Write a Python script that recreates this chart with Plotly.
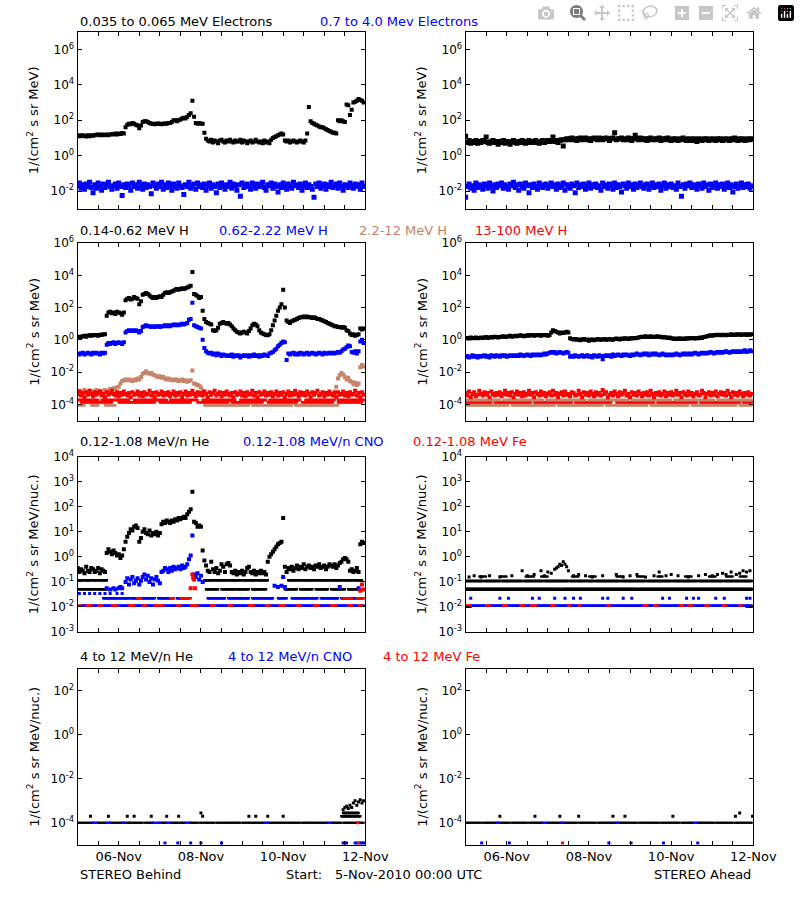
import plotly.graph_objects as go
from datetime import datetime, timedelta

BASE = datetime(2010, 11, 5)
HOURS = list(range(168))

# ---------------- Row 1 : electrons (log10 values, hourly) ----------------
e_lo_behind = [
 1.10,1.15,1.10,1.15,1.12,1.08,1.15,1.10,1.15,1.12,
 1.15,1.18,1.20,1.15,1.20,1.15,1.18,1.20,1.15,1.20,
 1.22,1.20,1.25,1.20,1.25,1.22,1.28,1.25,
 1.60,1.75,1.80,1.78,1.85,1.80,1.75,1.70,1.55,1.70,
 1.90,1.95,1.95,1.90,1.85,1.80,1.80,1.78,1.80,1.82,
 1.80,1.78,1.80,1.82,1.80,1.85,1.85,1.90,2.00,2.00,
 1.95,2.00,2.05,2.10,2.15,2.10,2.20,2.30,2.40,3.10,
 2.20,1.85,1.80,1.85,1.80,1.80,1.30,0.95,0.85,0.80,
 0.90,0.75,0.85,0.80,0.70,0.85,0.90,0.80,0.75,0.85,
 0.80,0.90,0.80,0.75,0.85,0.80,0.80,0.90,0.75,0.85,
 0.80,0.70,0.80,0.85,0.75,0.80,0.90,0.80,0.75,0.80,
 0.70,0.85,0.75,0.80,0.70,0.90,1.00,1.05,1.10,1.15,
 1.20,1.25,1.20,0.85,0.80,0.85,0.75,0.80,0.85,0.80,
 0.75,0.80,0.85,0.80,0.75,0.85,1.25,2.75,1.95,1.85,
 1.80,1.75,1.70,1.65,1.60,1.60,1.55,1.50,1.45,1.40,
 1.35,1.30,1.30,1.25,2.00,1.95,2.00,1.95,1.90,2.90,
 2.85,2.30,2.60,3.00,3.05,3.10,3.20,3.15,3.10,3.00]
e_hi_behind = [
 -1.70,-1.55,-1.85,-1.65,-1.90,-1.60,-1.75,-1.50,-1.80,-2.10,
 -1.65,-1.85,-1.55,-1.70,-1.95,-1.60,-1.80,-1.65,-1.50,-1.75,
 -1.90,-1.70,-1.60,-1.85,-1.55,-1.75,-2.25,-1.65,-1.80,-1.60,
 -1.70,-1.95,-1.55,-1.75,-1.65,-1.85,-1.50,-1.70,-1.90,-1.60,
 -1.80,-1.65,-1.75,-2.15,-1.55,-1.70,-1.85,-1.60,-1.75,-1.50,
 -1.90,-1.65,-1.80,-1.55,-1.70,-1.95,-1.60,-1.75,-1.85,-1.55,
 -1.70,-1.80,-2.20,-1.65,-1.75,-1.50,-1.85,-1.70,-1.60,-1.90,
 -1.55,-1.75,-1.65,-1.80,-1.60,-1.95,-1.70,-1.55,-1.85,-1.65,
 -1.75,-2.10,-1.60,-1.80,-1.55,-1.70,-1.90,-1.65,-1.75,-1.50,
 -1.85,-1.60,-1.70,-1.95,-1.65,-2.30,-1.55,-1.80,-1.70,-1.60,
 -1.75,-1.90,-1.55,-1.70,-1.85,-1.60,-1.75,-1.65,-1.50,-1.80,
 -1.95,-1.65,-1.70,-1.55,-1.85,-1.60,-1.75,-2.05,-1.65,-1.80,
 -1.55,-1.70,-1.90,-1.60,-1.75,-1.85,-1.50,-1.70,-1.65,-1.80,
 -1.60,-1.95,-1.70,-1.55,-1.80,-1.65,-1.75,-1.90,-2.35,-1.60,
 -1.75,-1.55,-1.85,-1.70,-1.60,-1.90,-1.65,-1.75,-1.50,-1.80,
 -1.70,-1.60,-1.85,-1.55,-1.75,-1.95,-1.65,-1.70,-1.80,-1.55,
 -1.70,-1.85,-1.60,-1.75,-1.65,-1.90,-1.55,-1.75]
e_lo_ahead = [
 1.10,0.75,0.85,0.70,0.80,0.75,0.85,0.70,0.80,0.75,
 0.85,0.80,1.05,0.75,0.70,0.80,0.85,0.75,0.80,0.65,
 0.80,0.75,0.85,0.70,0.80,0.75,0.65,0.80,0.85,0.75,
 0.70,0.80,0.75,0.85,0.80,0.70,0.75,0.85,0.80,0.75,
 0.80,0.85,0.75,0.70,0.80,0.85,0.75,0.80,0.85,0.80,
 0.85,1.05,0.80,0.85,0.75,0.85,0.90,0.55,0.90,0.95,
 0.90,0.95,1.00,0.90,0.95,0.85,0.95,1.00,0.90,0.95,
 1.00,0.90,0.95,0.85,0.95,1.00,0.95,0.90,1.00,0.95,
 0.90,0.95,1.00,0.95,0.85,0.95,1.00,1.30,0.90,0.95,
 0.95,1.00,0.90,0.95,0.90,1.00,0.95,0.85,0.95,1.15,
 0.95,0.90,1.00,0.95,0.90,0.95,0.85,0.95,1.00,0.90,
 0.95,0.90,0.95,1.00,0.85,0.95,0.90,0.95,1.00,0.90,
 0.85,0.95,0.90,0.95,0.85,0.90,0.95,1.00,0.90,0.85,
 0.95,0.90,0.85,0.95,0.90,0.80,0.95,0.90,0.85,0.95,
 0.90,0.95,0.85,0.90,0.95,0.90,0.85,0.95,0.90,0.95,
 0.85,0.90,0.95,0.90,0.85,0.95,0.90,1.00,0.90,0.85,
 0.95,0.90,0.95,0.85,0.90,0.95,0.90,0.95]
e_hi_ahead = [
 -2.35,-1.75,-1.60,-1.85,-1.70,-1.95,-1.55,-1.80,-1.65,-1.75,
 -1.90,-1.60,-1.70,-1.85,-1.55,-1.75,-2.00,-1.65,-1.80,-1.60,
 -1.70,-1.55,-1.85,-1.65,-1.75,-1.90,-1.60,-1.70,-1.50,-1.80,
 -1.65,-1.95,-1.60,-1.75,-1.85,-1.55,-1.70,-2.10,-1.65,-1.80,
 -1.60,-1.75,-1.90,-1.55,-1.70,-1.80,-1.65,-1.60,-1.85,-1.70,
 -1.55,-1.75,-1.65,-1.90,-1.60,-1.80,-1.70,-1.55,-1.95,-1.65,
 -1.75,-1.85,-1.60,-1.70,-2.10,-1.55,-1.80,-1.65,-1.75,-1.60,
 -1.90,-1.70,-1.55,-1.85,-1.65,-1.75,-1.60,-1.80,-1.70,-1.95,
 -1.55,-1.75,-1.65,-1.85,-1.60,-1.70,-1.90,-1.55,-1.80,-1.65,
 -1.75,-2.05,-1.60,-1.70,-1.85,-1.55,-1.75,-1.65,-1.90,-1.60,
 -1.80,-1.70,-1.55,-1.75,-1.85,-1.65,-1.60,-1.90,-1.70,-1.55,
 -1.80,-1.65,-1.75,-1.60,-1.95,-1.70,-1.55,-1.85,-1.65,-1.75,
 -1.60,-1.80,-1.70,-1.90,-1.55,-1.75,-2.30,-1.65,-1.85,-1.60,
 -1.70,-1.55,-1.80,-1.65,-1.75,-1.90,-1.60,-1.70,-1.85,-1.55,
 -1.75,-1.65,-1.95,-1.60,-1.80,-1.70,-1.55,-1.85,-1.65,-1.75,
 -1.60,-1.90,-1.70,-1.55,-1.80,-1.65,-2.05,-1.75,-1.60,-1.85,
 -1.70,-1.55,-1.80,-1.65,-1.75,-1.60,-1.85,-1.70]

# ---------------- Row 2 : protons ----------------
h1_behind = [
 0.15,0.20,0.18,0.22,0.25,0.20,0.25,0.28,0.25,0.30,
 0.28,0.30,0.25,0.32,0.30,0.35,0.35,
 1.50,1.70,1.75,1.65,1.70,1.60,1.75,1.70,1.65,1.55,1.70,
 2.45,2.55,2.60,2.50,2.55,2.65,2.60,2.55,2.20,2.40,
 2.80,2.85,2.90,2.85,2.75,2.65,2.60,2.65,2.60,2.65,
 2.70,2.65,2.80,2.90,2.95,2.90,2.95,3.00,3.05,3.10,
 3.15,3.10,3.15,3.20,3.15,3.20,3.25,3.30,3.35,4.20,
 2.85,2.80,2.70,2.60,2.65,1.80,1.30,1.10,1.05,1.00,
 0.95,0.60,0.55,0.60,0.75,1.00,1.05,1.10,1.05,1.00,
 1.05,0.95,0.85,0.70,0.60,0.50,0.45,0.40,0.45,0.50,
 0.45,0.40,0.55,0.70,0.90,1.00,0.95,0.85,0.60,0.45,
 0.40,0.35,0.30,0.28,0.35,0.60,0.90,1.20,1.50,1.80,
 2.00,2.20,3.10,2.00,1.20,1.10,1.05,1.15,1.20,1.25,
 1.30,1.35,1.40,1.40,1.45,1.40,1.45,1.40,1.40,1.35,
 1.40,1.35,1.30,1.30,1.25,1.20,1.15,1.10,1.05,1.00,
 0.95,0.90,0.85,0.85,0.80,0.80,0.75,0.80,0.75,0.60,
 0.55,0.40,0.30,0.35,0.25,0.30,0.35,0.70,0.65,0.70]
h2_behind = [
 -0.85,-0.90,-0.85,-0.80,-0.90,-0.85,-0.80,-0.85,-0.90,-0.80,
 -0.85,-0.80,-0.85,-0.90,-0.80,-0.85,-0.80,
 -0.30,-0.20,-0.25,-0.20,-0.15,-0.25,-0.20,-0.15,-0.20,-0.25,-0.15,
 0.45,0.55,0.60,0.55,0.60,0.55,0.60,0.55,0.45,0.55,
 0.80,0.85,0.90,0.85,0.85,0.80,0.85,0.80,0.85,0.85,
 0.80,0.85,0.85,0.90,0.85,0.90,0.85,0.90,0.95,0.90,
 0.95,0.90,0.95,1.00,0.95,1.00,1.05,1.25,1.30,2.30,
 0.90,0.85,0.80,0.75,0.70,0.00,-0.50,-0.70,-0.80,-0.85,
 -0.80,-0.90,-0.85,-0.95,-0.85,-0.90,-1.00,-0.90,-0.95,-1.00,
 -0.95,-1.00,-0.90,-1.05,-0.95,-1.00,-0.95,-1.10,-1.00,-0.95,
 -1.00,-0.95,-1.05,-0.95,-1.00,-0.90,-1.00,-0.95,-1.05,-0.95,
 -1.00,-0.90,-0.95,-1.00,-0.85,-0.80,-0.75,-0.65,-0.55,-0.40,
 -0.30,-0.20,-0.10,-0.15,-1.25,-0.85,-0.90,-0.85,-0.80,-0.90,
 -0.85,-0.90,-0.80,-0.85,-0.90,-0.85,-0.80,-0.90,-0.85,-0.80,
 -0.85,-0.90,-0.85,-0.80,-0.85,-0.90,-0.80,-0.85,-0.85,-0.80,
 -0.85,-0.80,-0.85,-0.80,-0.75,-0.80,-0.70,-0.60,-0.55,-0.45,
 -0.35,-0.40,-0.75,-0.80,-0.70,-0.85,-0.70,-0.10,0.00,-0.20]
h3_behind_early = [  # hours 0..73
 -3.25,-3.15,-3.30,-3.20,-3.10,-3.25,-3.35,-3.15,-3.20,-3.30,
 -3.20,-3.10,-3.25,-3.15,-3.30,-3.20,-3.10,-3.25,-3.15,-3.05,
 -3.10,-3.00,-3.05,-2.95,-2.90,-2.70,-2.55,-2.50,-2.45,-2.50,
 -2.45,-2.50,-2.55,-2.45,-2.50,-2.40,-2.45,-2.30,-2.10,-2.05,
 -1.95,-2.05,-2.10,-2.05,-2.15,-2.20,-2.25,-2.30,-2.25,-2.35,
 -2.30,-2.40,-2.45,-2.40,-2.45,-2.50,-2.45,-2.50,-2.45,-2.55,
 -2.50,-2.45,-2.55,-2.50,-2.60,-2.55,-2.50,-1.90,-2.70,-2.75,
 -2.80,-2.85,-2.95,-3.15]
h3_behind_late = [  # hours 150..167
 -3.20,-2.90,-2.40,-2.20,-2.05,-2.15,-2.30,-2.45,-2.35,-2.55,
 -2.60,-2.75,-2.65,-2.80,-2.70,-1.70,-1.55,-1.65]
h4_behind = [
 -3.35,-3.20,-3.45,-3.30,-3.55,-3.25,-3.40,-3.15,-3.35,-3.50,
 -3.25,-3.40,-3.30,-3.20,-3.45,-3.35,-3.55,-3.25,-3.40,-3.30,
 -3.15,-3.35,-3.45,-3.25,-3.50,-3.30,-3.40,-3.20,-3.35,-3.45,
 -3.30,-3.55,-3.25,-3.40,-3.35,-3.20,-3.45,-3.30,-3.50,-3.25,
 -3.40,-3.35,-3.15,-3.45,-3.30,-3.55,-3.25,-3.40,-3.35,-3.20,
 -3.45,-3.30,-3.40,-3.25,-3.50,-3.35,-3.20,-3.45,-3.30,-3.40,
 -3.25,-3.55,-3.35,-3.20,-3.45,-3.30,-3.40,-3.15,-3.35,-3.50,
 -3.25,-3.40,-3.30,-3.45,-3.20,-3.35,-3.55,-3.25,-3.40,-3.30,
 -3.15,-3.45,-3.35,-3.25,-3.50,-3.30,-3.40,-3.20,-3.35,-3.45,
 -3.30,-3.55,-3.25,-3.40,-3.35,-3.20,-3.45,-3.30,-3.50,-3.25,
 -3.40,-3.35,-3.15,-3.45,-3.30,-3.55,-3.25,-3.40,-3.35,-3.20,
 -3.45,-3.30,-3.40,-3.25,-3.50,-3.35,-3.20,-3.45,-3.30,-3.40,
 -3.25,-3.55,-3.35,-3.20,-3.45,-3.30,-3.40,-3.15,-3.35,-3.50,
 -3.25,-3.40,-3.30,-3.45,-3.20,-3.35,-3.55,-3.25,-3.40,-3.30,
 -3.15,-3.45,-3.35,-3.25,-3.50,-3.30,-3.40,-3.20,-3.35,-3.45,
 -3.30,-3.55,-3.25,-3.40,-3.35,-3.20,-3.45,-3.30,-3.50,-3.25,
 -3.40,-3.35,-3.15,-3.45,-3.30,-3.55,-3.25,-3.40]
h1_ahead = [
 0.10,0.12,0.08,0.15,0.10,0.12,0.15,0.10,0.12,0.15,
 0.12,0.15,0.18,0.12,0.15,0.18,0.15,0.20,0.18,0.15,
 0.18,0.20,0.22,0.18,0.20,0.22,0.25,0.20,0.22,0.25,
 0.22,0.25,0.28,0.25,0.22,0.25,0.28,0.25,0.30,0.28,
 0.25,0.28,0.30,0.28,0.25,0.30,0.28,0.30,0.25,0.30,
 0.45,0.60,0.55,0.50,0.45,0.40,0.45,0.42,0.45,0.50,
 0.45,0.10,0.05,0.02,0.05,0.00,0.03,-0.02,0.02,0.05,
 0.00,0.03,-0.05,0.00,0.02,-0.03,0.00,0.05,0.02,0.00,
 0.03,0.05,0.00,0.02,0.05,0.03,0.00,0.05,0.08,0.05,
 0.03,0.08,0.05,0.10,0.08,0.05,0.10,0.08,0.12,0.10,
 0.12,0.15,0.18,0.20,0.18,0.22,0.20,0.18,0.22,0.20,
 0.18,0.20,0.22,0.18,0.20,0.15,0.18,0.15,0.12,0.15,
 0.10,0.08,0.05,0.08,0.05,0.10,0.05,0.08,0.05,0.10,
 0.08,0.10,0.12,0.10,0.08,0.12,0.10,0.15,0.12,0.18,
 0.20,0.22,0.25,0.28,0.25,0.30,0.28,0.32,0.30,0.28,
 0.32,0.30,0.28,0.32,0.30,0.35,0.32,0.30,0.35,0.32,
 0.35,0.30,0.33,0.35,0.30,0.35,0.32,0.35]
h2_ahead = [
 -1.05,-1.00,-1.10,-1.05,-0.95,-1.05,-1.00,-1.10,-1.00,-1.05,
 -1.00,-0.95,-1.05,-1.00,-1.10,-0.95,-1.00,-1.05,-0.95,-1.00,
 -1.05,-0.95,-1.00,-0.95,-1.05,-1.00,-0.95,-1.00,-0.95,-1.00,
 -0.95,-1.00,-0.90,-0.95,-1.00,-0.95,-0.90,-0.95,-1.00,-0.90,
 -0.95,-0.90,-0.95,-0.90,-0.95,-0.90,-0.85,-0.90,-0.85,-0.80,
 -0.75,-0.80,-0.75,-0.85,-0.80,-0.75,-0.80,-0.85,-0.80,-0.75,
 -0.80,-1.05,-1.00,-1.05,-0.95,-1.00,-1.05,-1.00,-0.95,-1.05,
 -1.00,-0.95,-1.05,-1.00,-1.10,-0.95,-1.00,-1.05,-0.95,-1.00,
 -1.20,-1.00,-0.95,-1.00,-0.95,-1.05,-0.90,-1.00,-0.95,-0.90,
 -0.95,-1.00,-0.90,-0.95,-0.90,-0.95,-1.00,-0.90,-0.95,-0.90,
 -0.85,-0.90,-0.95,-0.90,-0.85,-0.90,-0.85,-0.95,-0.90,-0.85,
 -0.90,-0.85,-0.90,-0.95,-0.90,-0.85,-0.90,-0.95,-0.90,-0.95,
 -0.90,-0.95,-0.90,-0.85,-0.90,-0.95,-0.90,-0.85,-0.90,-0.85,
 -0.90,-0.85,-0.90,-0.85,-0.80,-0.85,-0.90,-0.85,-0.80,-0.85,
 -0.80,-0.85,-0.80,-0.75,-0.80,-0.85,-0.80,-0.75,-0.80,-0.75,
 -0.80,-0.75,-0.70,-0.75,-0.80,-0.75,-0.70,-0.75,-0.70,-0.75,
 -0.70,-0.75,-0.70,-0.65,-0.75,-0.70,-0.65,-0.70]
h4_ahead = [
 -3.30,-3.45,-3.20,-3.55,-3.35,-3.25,-3.50,-3.40,-3.15,-3.35,
 -3.45,-3.25,-3.40,-3.30,-3.55,-3.20,-3.35,-3.45,-3.30,-3.40,
 -3.25,-3.50,-3.35,-3.15,-3.40,-3.30,-3.45,-3.25,-3.55,-3.35,
 -3.20,-3.40,-3.30,-3.50,-3.25,-3.45,-3.35,-3.15,-3.40,-3.30,
 -3.55,-3.25,-3.35,-3.45,-3.20,-3.40,-3.30,-3.50,-3.35,-3.25,
 -3.45,-3.15,-3.40,-3.30,-3.55,-3.35,-3.25,-3.45,-3.20,-3.40,
 -3.35,-3.50,-3.25,-3.30,-3.45,-3.40,-3.15,-3.35,-3.55,-3.25,
 -3.40,-3.30,-3.45,-3.20,-3.35,-3.50,-3.25,-3.40,-3.30,-3.45,
 -3.10,-3.35,-3.25,-3.55,-3.40,-3.30,-3.45,-3.20,-3.35,-3.50,
 -3.25,-3.40,-3.30,-3.15,-3.45,-3.35,-3.55,-3.25,-3.40,-3.30,
 -3.45,-3.20,-3.35,-3.50,-3.30,-3.40,-3.25,-3.45,-3.15,-3.35,
 -3.55,-3.30,-3.40,-3.25,-3.45,-3.35,-3.20,-3.50,-3.30,-3.40,
 -3.25,-3.45,-3.35,-3.15,-3.40,-3.30,-3.55,-3.25,-3.35,-3.45,
 -3.20,-3.40,-3.30,-3.50,-3.35,-3.25,-3.45,-3.40,-3.15,-3.30,
 -3.55,-3.35,-3.25,-3.45,-3.30,-3.40,-3.20,-3.50,-3.35,-3.25,
 -3.40,-3.30,-3.45,-3.15,-3.35,-3.55,-3.25,-3.40,-3.30,-3.45,
 -3.20,-3.35,-3.50,-3.30,-3.40,-3.25,-3.45,-3.35]
# background (count-floor) levels: (log10 level, [start_hour, end_hour] segments)
h4_behind_lvl1 = (-3.72, [[0,12],[14,30],[33,52],[54,70],[73,92],[95,110],[112,130],[133,150],[152,167]])
h4_behind_lvl2 = (-3.87, [[2,20],[24,45],[48,66],[70,88],[90,108],[111,128],[131,149],[152,166]])
h3_behind_floor = (-4.05, [[0,4],[8,12],[16,22],[74,100],[102,125],[127,152]])
h3_ahead_lvl1 = (-3.72, [[0,20],[22,45],[47,70],[72,95],[97,120],[122,145],[147,167]])
h4_ahead_lvl2 = (-3.87, [[0,15],[17,38],[40,62],[64,85],[88,110],[112,135],[137,160],[162,167]])
h3_ahead_floor = (-4.05, [[0,25],[27,52],[54,80],[82,106],[108,130],[132,158],[160,167]])

# ---------------- Row 3 : 0.12-1.08 MeV/n heavy ions ----------------
he_behind = [
 -0.45,-0.60,-0.50,-0.55,-0.65,-0.40,-0.55,-0.60,-0.45,-0.50,
 -0.60,-0.55,-0.45,-0.65,-0.50,-0.55,-0.60,
 0.15,0.30,0.20,0.10,0.25,0.15,0.05,0.10,-0.05,0.05,0.30,
 0.60,0.80,0.95,1.10,1.05,1.20,1.25,1.15,0.60,0.75,
 1.00,1.10,0.95,0.90,1.05,0.85,0.95,0.90,1.00,0.85,
 0.95,1.30,1.40,1.35,1.45,1.40,1.35,1.45,1.40,1.50,
 1.45,1.55,1.50,1.55,1.60,1.55,1.70,1.80,1.90,2.60,
 1.40,1.35,1.20,1.25,1.20,0.25,-0.15,-0.35,-0.55,-0.60,
 -0.20,-0.50,-0.60,-0.45,-0.65,-0.55,-0.30,-0.40,-0.60,-0.30,
 -0.25,-0.35,-0.60,-0.65,-0.55,-0.70,-0.60,-0.65,-0.55,-0.70,
 -0.60,-0.45,-0.40,-0.60,-0.65,-0.55,-0.70,-0.60,-0.65,-0.55,
 -0.65,-0.60,-0.70,-0.20,0.00,0.10,0.20,0.30,0.40,0.50,
 0.55,0.60,1.55,-0.40,-0.60,-0.45,-0.50,-0.40,-0.55,-0.45,
 -0.35,-0.50,-0.40,-0.45,-0.30,-0.50,-0.40,-0.35,-0.45,-0.40,
 -0.50,-0.35,-0.40,-0.30,-0.45,-0.40,-0.35,-0.50,-0.40,-0.30,
 -0.35,-0.40,-0.30,-0.45,-0.35,-0.25,-0.20,-0.10,-0.05,-0.10,
 -0.20,-0.55,-0.50,-0.60,-0.55,-0.45,-0.60,0.50,0.60,0.55]
he_behind_lvl1 = (-0.93, [[0,3],[4,8],[9,12],[13,17],[74,80],[81,88],[89,96],[97,104],[105,111],
                          [123,130],[131,138],[139,146],[147,154],[155,160],[161,166]])
he_behind_lvl2 = (-1.29, [[0,4],[5,10],[11,17],[75,82],[84,92],[93,100],[102,110],[121,128],
                          [130,137],[139,146],[148,156],[158,165]])
cno_behind_hours = list(range(17, 78))
cno_behind = [
 -1.25,None,-1.30,None,-1.25,-1.30,None,-1.25,-1.20,-1.25,None,
 -1.00,-0.85,-1.10,-0.90,-0.80,-1.05,-0.95,-0.85,-1.10,-0.95,
 -0.80,-0.70,-0.90,-0.75,-1.00,-0.85,-1.10,-0.90,-0.80,-0.95,
 -1.05,-0.60,-0.55,-0.45,-0.50,-0.60,-0.45,-0.55,-0.40,-0.50,
 -0.45,-0.40,-0.50,-0.35,-0.45,-0.40,-0.30,-0.10,0.05,0.85,
 -0.70,-0.80,-0.65,-0.90,-0.75,-1.00,None,None,None,None]
cno_behind_late_hours = [115, 117, 119, 120, 121, 153, 164]
cno_behind_late = [-1.15, -1.20, -1.15, -0.80, -1.20, -1.20, -1.25]
cno_behind_dots_hours = [1, 4, 7, 10, 13, 16, 19, 23, 26]
cno_behind_dots = [-1.46, -1.46, -1.46, -1.46, -1.46, -1.46, -1.46, -1.46, -1.46]
cno_behind_lvl1 = (-1.65, [[15,30],[31,45],[47,56],[58,64],[76,86],[88,100],[102,114],[117,122],
                           [125,140],[142,152],[154,166]])
fe_behind_lvl1 = (-1.65, [[35,37],[54,56],[60,66],[155,160],[163,167]])
fe_behind_lvl0 = (-1.95, [[0,2],[5,8],[12,14],[20,23],[30,33],[38,40],[45,50],[58,60],[66,70],
                          [78,80],[88,90],[100,103],[110,112],[118,121],[128,130],[138,141],
                          [148,151],[158,160],[164,166]])
cno_behind_lvl0 = (-1.95, [[2,5],[8,12],[14,20],[23,30],[33,38],[40,45],[50,58],[60,66],[70,78],
                           [80,88],[90,100],[103,110],[112,118],[121,128],[130,138],[141,148],
                           [151,158],[160,164],[166,167]])
fe_behind_hours = [66, 67, 67.5, 68, 68.5, 165, 166, 167]
fe_behind = [-1.25, -0.70, -0.85, -0.90, -1.25, -1.35, -1.10, -1.30]

he_ahead_hours = [2,5,9,14,20,27,33,36,40,44,46,48,50,52,53,54,55,56,57,58,
                  59,60,63,66,70,74,80,88,92,96,100,105,110,113,117,120,124,130,136,140,
                  144,147,150,152,155,158,160,162,164,166]
he_ahead = [-0.80,-0.75,-0.80,-0.75,-0.80,-0.75,-0.55,-0.75,-0.70,-0.55,
            -0.75,-0.60,-0.65,-0.50,-0.45,-0.40,-0.30,-0.35,-0.20,-0.30,
            -0.40,-0.55,-0.75,-0.70,-0.75,-0.80,-0.75,-0.70,-0.80,-0.75,
            -0.70,-0.80,-0.75,-0.60,-0.75,-0.70,-0.75,-0.80,-0.75,-0.70,
            -0.75,-0.70,-0.65,-0.70,-0.60,-0.70,-0.65,-0.55,-0.60,-0.55]
he_ahead_lvl3 = (-0.78, [[8,12],[20,24],[35,40],[44,48],[62,66],[72,76],[88,92],[100,104],
                         [112,115],[128,132],[142,146],[152,156],[160,164]])
he_ahead_lvl1 = (-0.96, [[0,10],[11,20],[21,33],[34,45],[46,60],[61,75],[76,90],[91,105],
                         [106,120],[121,135],[136,150],[151,167]])
he_ahead_lvl2 = (-1.29, [[0,55],[56,100],[101,167]])
he_ahead_lvl0 = (-1.98, [[0,3],[164,167]])
cno_ahead_dots_hours = [3,20,25,39,43,52,58,63,67,80,83,92,97,115,119,129,133,136,146,151,164,166]
cno_ahead_dots = [-1.65,-1.65,-1.65,-1.65,-1.65,-1.65,-1.65,-1.65,-1.65,-1.65,-1.65,
                  -1.65,-1.65,-1.65,-1.65,-1.65,-1.65,-1.65,-1.65,-1.65,-1.65,-1.65]
cno_ahead_lvl0 = (-1.95, [[3,12],[14,22],[24,32],[34,38],[41,50],[52,60],[61,66],[67,83],[84,104],
                          [106,110],[112,125],[127,130],[132,140],[142,150],[152,160],[161,167]])
fe_ahead_lvl0 = (-1.95, [[0,3],[12,14],[22,24],[32,34],[38,41],[50,52],[60,61],[66,67],[83,84],
                         [104,106],[110,112],[125,127],[130,132],[140,142],[150,152],[160,161]])

# ---------------- Row 4 : 4-12 MeV/n heavy ions ----------------
he4_behind_hours = [7.5,18,29,33,43,52,59,72,73,100,104,111,120,
                    155,156,157,158,159,160,161,162,163,164,165,166,167]
he4_behind = [-3.70,-3.70,-3.70,-3.70,-3.70,-3.70,-3.70,-3.55,-3.70,-3.70,-3.70,-3.70,-3.70,
              -3.40,-3.30,-3.25,-3.35,-3.20,-3.30,-3.10,-3.00,-3.20,-3.05,-2.95,-3.10,-3.00]
he4_behind_lvl0 = (-4.0, [[0,9],[11,17],[19,26],[27,38],[39,44],[48,52],[54,63],[65,70],[71,80],
                          [81,95],[96,109],[111,130],[131,146],[148,154],[155,167]])
he4_behind_lvl1 = (-3.55, [[155,164]])
he4_behind_lvl2 = (-3.70, [[154,165]])
cno4_behind_lvl0 = (-4.0, [[9,11],[17,19],[26,27],[44,48],[52,54],[63,65],[109,111],[146,148]])
cno4_behind_hours = [51,58.5,66,72,84,155,156,157,162,163,165,166,167]
cno4_behind = [-4.92,-4.92,-4.92,-4.92,-4.92,-4.92,-4.92,-4.92,-4.92,-4.92,-4.92,-4.92,-4.92]
fe4_behind_hours = [163.5, 164]
fe4_behind = [-4.0, -4.92]

he4_ahead_hours = [20,40.5,55,66,86,93,121,157.5,160,167.5]
he4_ahead = [-3.70,-3.70,-3.70,-3.70,-3.70,-3.70,-3.70,-3.70,-3.55,-3.70]
he4_ahead_lvl0 = (-4.0, [[0,9],[10,18],[19,26],[27,36],[37,45],[47,56],[57,65],[66,76],[77,88],
                         [89,100],[101,113],[114,125],[126,133],[135,145],[146,156],[157,167]])
cno4_ahead_lvl0 = (-4.0, [[18,19],[45,47],[56,57],[88,89],[133,135]])
cno4_ahead_hours = [9.4,25.5,83.6,96.6,115.5,135.5]
cno4_ahead = [-4.92,-4.92,-4.92,-4.92,-4.92,-4.92]
fe4_ahead_hours = [56.6]
fe4_ahead = [-4.92]

# tick labels
X_TICK_HOURS = [24, 72, 120, 168]
X_TICK_TEXT = ["06-Nov", "08-Nov", "10-Nov", "12-Nov"]
Y_TICK_EXP = [[-2, 0, 2, 4, 6], [-4, -2, 0, 2, 4, 6], [-3, -2, -1, 0, 1, 2, 3, 4], [-4, -2, 0, 2]]
Y_RANGES = [(-3, 7), (-5, 6), (-3, 4), (-5, 3)]

# ---------------- figure ----------------
BLACK, BLUE, RED, TAN = "#000000", "#0000ff", "#ff0000", "#c8846a"
FONT = "DejaVu Sans"
W, H = 800, 900
COL_PX = [(80, 376.7), (480, 776.7)]
ROW_PX = [(23.3, 203.3), (238.3, 419.0), (455.7, 634.3), (671.7, 851.0)]
MAIN, BAND, FLOOR = 4, 5, 2.5

fig = go.Figure()


def axn(p):
    return ("x" if p == 0 else f"x{p+1}"), ("y" if p == 0 else f"y{p+1}")


def dt(h):
    return BASE + timedelta(hours=h)


def pts(p, hours, logs, color, size=MAIN):
    xs, ys = [], []
    for h, v in zip(hours, logs):
        if v is None:
            continue
        xs.append(dt(h))
        ys.append(10 ** v)
    xa, ya = axn(p)
    fig.add_trace(go.Scatter(x=xs, y=ys, mode="markers", xaxis=xa, yaxis=ya,
                             marker=dict(symbol="square", size=size, color=color, line=dict(width=0)),
                             showlegend=False, hoverinfo="skip"))


def floor(p, spec, color, size=FLOOR):
    level, segs = spec
    hs = []
    for a, b in segs:
        h = a
        while h <= b:
            hs.append(h)
            h += 0.5
    pts(p, hs, [level] * len(hs), color, size)


# panel 0/1: electrons
pts(0, HOURS, e_lo_behind, BLACK)
pts(0, HOURS, e_hi_behind, BLUE, BAND)
pts(1, HOURS, e_lo_ahead, BLACK, BAND)
pts(1, HOURS, e_hi_ahead, BLUE, BAND)
# panel 2/3: protons
floor(2, h3_behind_floor, TAN)
floor(2, h4_behind_lvl2, RED)
floor(2, h4_behind_lvl1, RED)
pts(2, HOURS, h1_behind, BLACK)
pts(2, HOURS, h2_behind, BLUE)
pts(2, list(range(0, 74)), h3_behind_early, TAN)
pts(2, list(range(150, 168)), h3_behind_late, TAN)
pts(2, HOURS, h4_behind, RED)
floor(3, h3_ahead_floor, TAN)
floor(3, h4_ahead_lvl2, RED)
floor(3, h3_ahead_lvl1, TAN)
pts(3, HOURS, h1_ahead, BLACK)
pts(3, HOURS, h2_ahead, BLUE)
pts(3, HOURS, h4_ahead, RED)
# panel 4/5: low-energy ions
floor(4, he_behind_lvl1, BLACK)
floor(4, he_behind_lvl2, BLACK)
pts(4, HOURS, he_behind, BLACK)
floor(4, cno_behind_lvl1, BLUE)
floor(4, cno_behind_lvl0, BLUE)
pts(4, cno_behind_dots_hours, cno_behind_dots, BLUE, 3)
pts(4, cno_behind_hours, cno_behind, BLUE)
pts(4, cno_behind_late_hours, cno_behind_late, BLUE)
floor(4, fe_behind_lvl1, RED)
floor(4, fe_behind_lvl0, RED)
pts(4, fe_behind_hours, fe_behind, RED)
floor(5, he_ahead_lvl0, BLACK)
floor(5, he_ahead_lvl1, BLACK)
floor(5, he_ahead_lvl2, BLACK, 3)
floor(5, he_ahead_lvl3, BLACK, 2)
pts(5, he_ahead_hours, he_ahead, BLACK, 3)
pts(5, cno_ahead_dots_hours, cno_ahead_dots, BLUE, 3)
floor(5, cno_ahead_lvl0, BLUE)
floor(5, fe_ahead_lvl0, RED)
# panel 6/7: high-energy ions
floor(6, he4_behind_lvl0, BLACK, 2)
floor(6, he4_behind_lvl1, BLACK)
floor(6, he4_behind_lvl2, BLACK)
pts(6, he4_behind_hours, he4_behind, BLACK, 3)
floor(6, cno4_behind_lvl0, BLUE, 2)
pts(6, cno4_behind_hours, cno4_behind, BLUE, 3)
pts(6, fe4_behind_hours, fe4_behind, RED, 3)
floor(7, he4_ahead_lvl0, BLACK, 2)
pts(7, he4_ahead_hours, he4_ahead, BLACK, 3)
floor(7, cno4_ahead_lvl0, BLUE, 2)
pts(7, cno4_ahead_hours, cno4_ahead, BLUE, 3)
pts(7, fe4_ahead_hours, fe4_ahead, RED, 3)

# axes
layout = {}
for p in range(8):
    r, c = divmod(p, 2)
    x0, x1 = COL_PX[c]
    y0, y1 = ROW_PX[r]
    xk = "xaxis" if p == 0 else f"xaxis{p+1}"
    yk = "yaxis" if p == 0 else f"yaxis{p+1}"
    xa, ya = axn(p)
    layout[xk] = dict(
        domain=[x0 / W, x1 / W], anchor=ya, type="date",
        range=[dt(0), dt(168)], tickmode="array",
        tickvals=[dt(h) for h in X_TICK_HOURS],
        ticktext=X_TICK_TEXT,
        showticklabels=(r == 3), ticks="inside", ticklen=4, tickcolor="black",
        minor=dict(ticks="inside", ticklen=4, tickcolor="black", dtick=12 * 3600 * 1000,
                   tick0=dt(0), showgrid=False),
        showline=True, linecolor="black", linewidth=1, mirror="allticks",
        showgrid=False, zeroline=False,
        tickfont=dict(family=FONT, size=13, color="black"),
    )
    exps = Y_TICK_EXP[r]
    layout[yk] = dict(
        domain=[1 - y1 / H, 1 - y0 / H], anchor=xa, type="log",
        range=list(Y_RANGES[r]), tickmode="array",
        tickvals=[10.0 ** e for e in exps],
        ticktext=[f"10<sup>{e}</sup>" for e in exps],
        ticks="inside", ticklen=4, tickcolor="black",
        showline=True, linecolor="black", linewidth=1, mirror="allticks",
        showgrid=False, zeroline=False,
        tickfont=dict(family=FONT, size=12, color="black"),
    )

ann = []


def text(x, y, s, color="black", xanchor="left", size=13, angle=0):
    ann.append(dict(x=x / W, y=1 - y / H, xref="paper", yref="paper", text=s, showarrow=False,
                    xanchor=xanchor, yanchor="middle", textangle=angle,
                    font=dict(family=FONT, size=size, color=color)))


text(80, 13, "0.035 to 0.065 MeV Electrons")
text(328, 13, "0.7 to 4.0 Mev Electrons", BLUE)
text(80, 226, "0.14-0.62 MeV H")
text(224, 226, "0.62-2.22 MeV H", BLUE)
text(368, 226, "2.2-12 MeV H", TAN)
text(488, 226, "13-100 MeV H", RED)
text(80, 440, "0.12-1.08 MeV/n He")
text(248, 440, "0.12-1.08 MeV/n CNO", BLUE)
text(424, 440, "0.12-1.08 MeV Fe", RED)
text(80, 659, "4 to 12 MeV/n He")
text(233, 659, "4 to 12 MeV/n CNO", BLUE)
text(393, 659, "4 to 12 MeV Fe", RED)
text(80, 881, "STEREO Behind")
text(293, 881, "Start:")
text(343, 881, "5-Nov-2010 00:00 UTC")
text(776, 881, "STEREO Ahead", xanchor="right")
for r in range(4):
    yc = (ROW_PX[r][0] + ROW_PX[r][1]) / 2
    lab = "1/(cm<sup>2</sup> s sr MeV)" if r < 2 else "1/(cm<sup>2</sup> s sr MeV/nuc.)"
    for c in range(2):
        text(COL_PX[c][0] - 46, yc, lab, xanchor="center", angle=-90)

fig.update_layout(width=W, height=H, margin=dict(l=0, r=0, t=0, b=0),
                  paper_bgcolor="white", plot_bgcolor="white", annotations=ann,
                  font=dict(family=FONT, size=13, color="black"), **layout)

fig.write_html("out.html", post_script="document.body.style.margin='0';")
